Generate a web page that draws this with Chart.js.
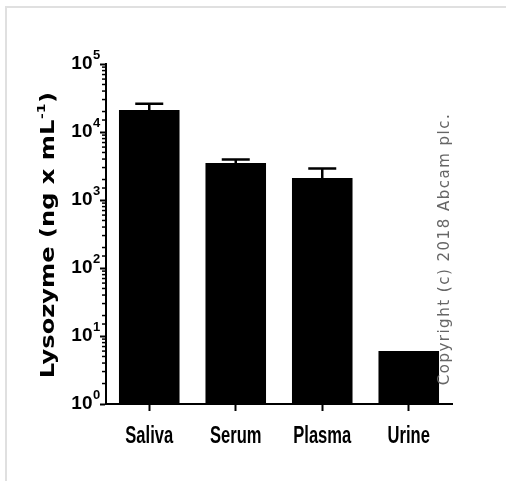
<!DOCTYPE html>
<html>
<head>
<meta charset="utf-8">
<script src="https://cdn.jsdelivr.net/npm/chart.js@4"></script>
<style>
  body { margin: 0; background: #fff; }
  #frame { position: absolute; left: 5px; top: 6px; width: 501px; height: 475px;
           border-left: 2px solid #e0e0e0; border-top: 2px solid #e0e0e0; box-sizing: border-box; }
  #wrap { position: absolute; left: 0; top: 0; width: 506px; height: 481px; }
</style>
</head>
<body>
<div id="frame"></div>
<div id="wrap"><canvas id="myChart"></canvas></div>
<script>
'use strict';

let samples = ['Saliva', 'Serum', 'Plasma', 'Urine'];
let lysozyme = [21000, 3500, 2100, 6];
let errorTop = [26000, 3950, 2900, 6];
let yTitle = 'Lysozyme (ng x mL';
let yTitleSup = '-1';
let yTitleEnd = ')';
let copyright = 'Copyright (c) 2018 Abcam plc.';

function isPow10(v) {
  let e = Math.log10(v);
  return Math.abs(e - Math.round(e)) < 1e-9;
}

// error bars (upper half only, lower half hides inside the black bar)
let errorBars = {
  id: 'errorBars',
  afterDatasetsDraw(chart) {
    let ctx = chart.ctx;
    let y = chart.scales.y;
    let meta = chart.getDatasetMeta(0);
    ctx.save();
    ctx.strokeStyle = '#000';
    ctx.lineWidth = 2.5;
    for (let i = 0; i < lysozyme.length; i++) {
      if (errorTop[i] <= lysozyme[i]) continue;
      let x = meta.data[i].x;
      let y0 = y.getPixelForValue(lysozyme[i]);
      let y1 = y.getPixelForValue(errorTop[i]);
      ctx.beginPath();
      ctx.moveTo(x, y0);
      ctx.lineTo(x, y1);
      ctx.moveTo(x - 14, y1);
      ctx.lineTo(x + 14, y1);
      ctx.stroke();
    }
    ctx.restore();
  }
};

// labels drawn by hand: condensed category names, 10^n with real superscripts
let axisText = {
  id: 'axisText',
  afterDraw(chart) {
    let ctx = chart.ctx;
    let x = chart.scales.x;
    let y = chart.scales.y;
    ctx.save();
    ctx.fillStyle = '#000';

    // x labels
    ctx.font = 'bold 23px "Liberation Sans"';
    ctx.textAlign = 'center';
    ctx.textBaseline = 'alphabetic';
    for (let i = 0; i < samples.length; i++) {
      let px = x.getPixelForValue(i);
      ctx.save();
      ctx.translate(px, 443);
      ctx.scale(0.72, 1);
      ctx.fillText(samples[i], 0, 0);
      ctx.restore();
    }

    // y labels and minor ticks
    ctx.strokeStyle = '#000';
    ctx.lineWidth = 1.5;
    y.ticks.forEach(function (t) {
      let py = y.getPixelForValue(t.value);
      if (isPow10(t.value)) {
        let e = Math.round(Math.log10(t.value));
        ctx.font = 'bold 19px "Liberation Sans"';
        ctx.textAlign = 'right';
        ctx.textBaseline = 'middle';
        ctx.fillText('10', 92.5, py);
        ctx.font = 'bold 13px "Liberation Sans"';
        ctx.textAlign = 'left';
        ctx.textBaseline = 'alphabetic';
        ctx.fillText(String(e), 93, py - 5);
      } else {
        ctx.beginPath();
        ctx.moveTo(y.right - 4, py);
        ctx.lineTo(y.right, py);
        ctx.stroke();
      }
    });

    // y title, stretched along its length
    ctx.save();
    ctx.translate(54, 235);
    ctx.rotate(-Math.PI / 2);
    ctx.scale(1.27, 1);
    ctx.font = 'bold 19px "DejaVu Sans"';
    let w1 = ctx.measureText(yTitle).width;
    let w3 = ctx.measureText(yTitleEnd).width;
    ctx.font = 'bold 11px "DejaVu Sans"';
    let w2 = ctx.measureText(yTitleSup).width + 1;
    let start = -(w1 + w2 + w3) / 2;
    ctx.textAlign = 'left';
    ctx.textBaseline = 'alphabetic';
    ctx.fillText(yTitleSup, start + w1 + 0.5, -9);
    ctx.font = 'bold 19px "DejaVu Sans"';
    ctx.fillText(yTitle, start, 0);
    ctx.fillText(yTitleEnd, start + w1 + w2, 0);
    ctx.restore();

    // copyright
    ctx.save();
    ctx.translate(449, 249);
    ctx.rotate(-Math.PI / 2);
    ctx.letterSpacing = '1.5px';
    ctx.font = '15px "DejaVu Sans"';
    ctx.fillStyle = '#666';
    ctx.textAlign = 'center';
    ctx.textBaseline = 'alphabetic';
    ctx.fillText(copyright, 0, 0);
    ctx.restore();

    ctx.restore();
  }
};

let ctx = document.getElementById('myChart').getContext('2d');
let myChart = new Chart(ctx, {
  type: 'bar',
  data: {
    labels: samples,
    datasets: [{
      data: lysozyme,
      backgroundColor: '#000',
      borderWidth: 0,
      barPercentage: 0.7,
      categoryPercentage: 1
    }]
  },
  options: {
    responsive: true,
    maintainAspectRatio: false,
    animation: false,
    layout: { padding: { top: 64, right: 54, left: 0, bottom: 0 } },
    plugins: { legend: { display: false }, tooltip: { enabled: false } },
    scales: {
      x: {
        offset: true,
        grid: { offset: false, drawOnChartArea: false, tickLength: 7, tickColor: '#000', tickWidth: 2 },
        border: { color: '#000', width: 2 },
        ticks: { display: false },
        afterFit(scale) { scale.height = 77; }
      },
      y: {
        type: 'logarithmic',
        min: 1,
        max: 100000,
        grid: {
          drawOnChartArea: false,
          tickLength: 6,
          tickColor: (c) => (c.tick && isPow10(c.tick.value) ? '#000' : 'rgba(0,0,0,0)'),
          tickWidth: 2
        },
        border: { color: '#000', width: 2 },
        ticks: { display: false, autoSkip: false },
        afterFit(scale) { scale.width = 106; }
      }
    }
  },
  plugins: [errorBars, axisText]
});
</script>
</body>
</html>
